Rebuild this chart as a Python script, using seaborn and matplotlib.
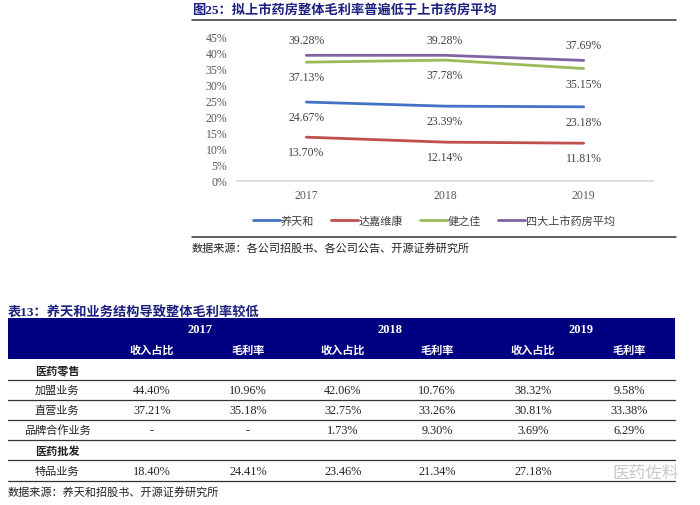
import pandas as pd
import matplotlib.pyplot as plt
from matplotlib.patches import Rectangle
import seaborn as sns

# chart data (gross margin, %)
years = ['2017', '2018', '2019']
companies = ['养天和', '达嘉维康', '健之佳', '四大上市药房平均']
yangtianhe = [24.67, 23.39, 23.18]
dajiaweikang = [13.70, 12.14, 11.81]
jianzhijia = [37.13, 37.78, 35.15]
avg_listed = [39.28, 39.28, 37.69]
yticks = [0, 5, 10, 15, 20, 25, 30, 35, 40, 45]

# table data
tbl_years = ['2017', '2018', '2019']
tbl_sub = ['收入占比', '毛利率']
tbl_rows = ['医药零售', '加盟业务', '直营业务', '品牌合作业务', '医药批发', '特品业务']
retail = ['', '', '', '', '', '']
jiameng = ['44.40%', '10.96%', '42.06%', '10.76%', '38.32%', '9.58%']
zhiying = ['37.21%', '35.18%', '32.75%', '33.26%', '30.81%', '33.38%']
pinpai = ['-', '-', '1.73%', '9.30%', '3.69%', '6.29%']
wholesale = ['', '', '', '', '', '']
tepin = ['18.40%', '24.41%', '23.46%', '21.34%', '27.18%', '']

sns.set_theme(style='white')
CJK = ['Noto Sans CJK SC', 'DejaVu Sans']
SERIF = ['Liberation Serif', 'Noto Sans CJK SC']
plt.rcParams['font.family'] = CJK
NAVY = '#1B1F7E'

df = pd.DataFrame({
    'year': years * 4,
    'company': [c for c in companies for _ in years],
    'margin': yangtianhe + dajiaweikang + jianzhijia + avg_listed,
})

fig = plt.figure(figsize=(7, 5.06), dpi=100)

# background layer in pixel coordinates for titles, rules and the table
bg = fig.add_axes([0, 0, 1, 1], zorder=0)
bg.set_xlim(0, 700)
bg.set_ylim(506, 0)
bg.axis('off')

# chart header / footer
bg.text(192, 10, '图25：拟上市药房整体毛利率普遍低于上市药房平均', ha='left', va='center',
        fontsize=9.5, fontweight='bold', color=NAVY, family=SERIF)
bg.plot([192, 676], [21, 21], color='#333333', lw=1.1)
bg.plot([192, 676], [238, 238], color='#333333', lw=1.1)
bg.text(192, 248, '数据来源：各公司招股书、各公司公告、开源证券研究所', ha='left', va='center',
        fontsize=8, color='#222222')

# line chart
ax = fig.add_axes([237 / 700, 1 - 182 / 506, 416 / 700, 144 / 506], zorder=1)
ax.patch.set_alpha(0)
colors = ['#4472C4', '#C0504D', '#9BBB59', '#8064A2']
sns.lineplot(data=df, x='year', y='margin', hue='company', palette=colors,
             linewidth=2.0, sort=False, ax=ax)
ax.set_xlim(-0.5, 2.5)
ax.set_ylim(0, 45)
ax.set_yticks(yticks)
ax.set_yticklabels([f'{t}%' for t in yticks])
ax.set_xlabel('')
ax.set_ylabel('')
for s in ['top', 'right', 'left']:
    ax.spines[s].set_visible(False)
ax.spines['bottom'].set_color('#D9D9D9')
ax.spines['bottom'].set_linewidth(1.2)
ax.tick_params(axis='y', length=0, pad=7, labelsize=8.5, labelcolor='#595959')
ax.tick_params(axis='x', length=0, pad=6, labelsize=8.5, labelcolor='#595959')
for lab in ax.get_xticklabels() + ax.get_yticklabels():
    lab.set_family('Liberation Serif')

series = [yangtianhe, dajiaweikang, jianzhijia, avg_listed]
sides = [-1, -1, -1, 1]
for vals, side in zip(series, sides):
    for i, v in enumerate(vals):
        ax.annotate(f'{v:.2f}%', (i, v), xytext=(0, side * 11), textcoords='offset points',
                    ha='center', va='center', fontsize=8.5, color='#404040',
                    family='Liberation Serif')

handles, labels = ax.get_legend_handles_labels()
ax.legend(handles, labels, loc='center', bbox_to_anchor=(434 / 700, 1 - 222 / 506),
          bbox_transform=fig.transFigure, ncol=4, frameon=False, fontsize=8,
          handlelength=2.4, handletextpad=0.1, columnspacing=1.5,
          labelcolor='#404040')

# table
bg.text(8, 312, '表13：养天和业务结构导致整体毛利率较低', ha='left', va='center',
        fontsize=9.5, fontweight='bold', color=NAVY, family=SERIF)
bg.add_patch(Rectangle((8, 319), 667, 41, color='#000080', lw=0))
col_x = [152, 248, 343, 437, 533, 629]
for k, yr in enumerate(tbl_years):
    cx = (col_x[2 * k] + col_x[2 * k + 1]) / 2
    bg.text(cx, 330, yr, ha='center', va='center', color='white', fontsize=9,
            fontweight='bold', family='Liberation Serif')
    for j, sub in enumerate(tbl_sub):
        bg.text(col_x[2 * k + j], 350, sub, ha='center', va='center', color='white',
                fontsize=8, fontweight='bold')

row_y = [371, 391, 411, 431, 451, 472]
row_vals = [retail, jiameng, zhiying, pinpai, wholesale, tepin]
section = [True, False, False, False, True, False]
for name, y, vals, sec in zip(tbl_rows, row_y, row_vals, section):
    bg.text(57, y, name, ha='center', va='center', fontsize=8, color='#222222',
            fontweight='bold' if sec else 'normal')
    for x, v in zip(col_x, vals):
        bg.text(x, y, v, ha='center', va='center', fontsize=8.8, color='#222222',
                family='Liberation Serif')
    bg.plot([8, 675], [y + 10, y + 10], color='#333333', lw=0.9)

bg.text(612, 473, '医药佐料', ha='left', va='center', fontsize=12, color='#C8C8C8')
bg.text(8, 492, '数据来源：养天和招股书、开源证券研究所', ha='left', va='center',
        fontsize=8, color='#222222')

fig.savefig('out.png', dpi=100)
